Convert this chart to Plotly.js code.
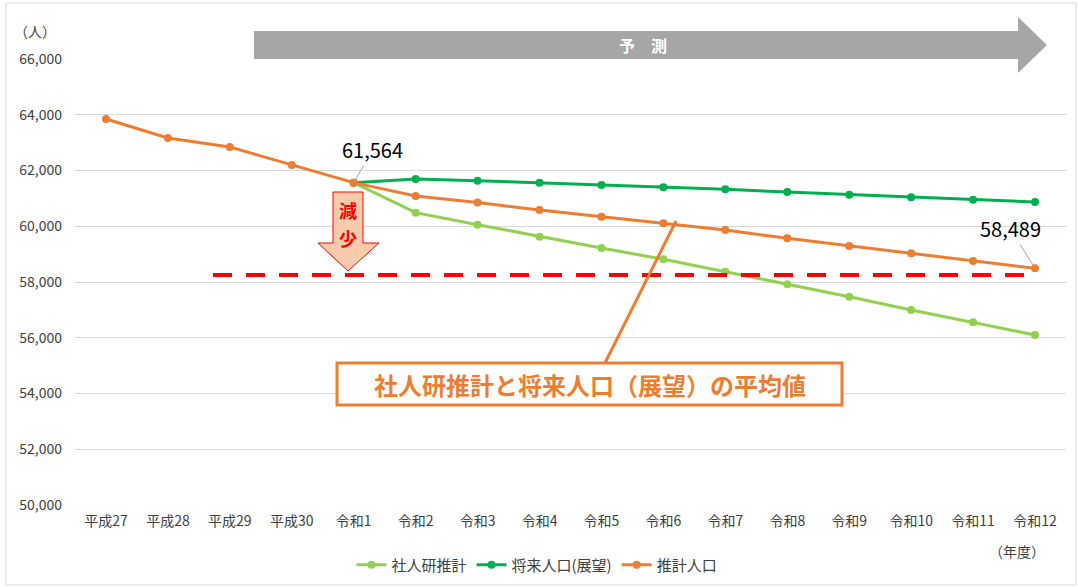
<!DOCTYPE html>
<html>
<head>
<meta charset="utf-8">
<script src="https://cdn.plot.ly/plotly-3.0.1.min.js"></script>
<style>html,body{margin:0;padding:0;background:#fff;}#chart{width:1078px;height:587px;}</style>
</head>
<body>
<div id="chart"></div>
<script>
// ---- data ----
const categories = ["平成27","平成28","平成29","平成30","令和1","令和2","令和3","令和4","令和5","令和6","令和7","令和8","令和9","令和10","令和11","令和12"];
const shajinkenCats = ["令和1","令和2","令和3","令和4","令和5","令和6","令和7","令和8","令和9","令和10","令和11","令和12"];
const shajinkenValues = [61564, 60487, 60057, 59627, 59220, 58813, 58370, 57918, 57474, 56996, 56554, 56099];
const tenbouValues = [61564, 61695, 61634, 61563, 61480, 61397, 61325, 61229, 61134, 61039, 60955, 60870];
const suikeiValues = [63848, 63166, 62843, 62197, 61564, 61085, 60852, 60583, 60343, 60104, 59866, 59568, 59292, 59030, 58753, 58489];
const yTickValues = [50000, 52000, 54000, 56000, 58000, 60000, 62000, 64000, 66000];
const yTickLabels = ["50,000","52,000","54,000","56,000","58,000","60,000","62,000","64,000","66,000"];
const seriesNames = ["社人研推計", "将来人口(展望)", "推計人口"];
const targetLevel = 58250;

// ---- layout helpers (pixel -> paper) ----
const W = 1078, H = 587;
const L = 75, R = 1066, T = 59, B = 505;
const px = x => (x - L) / (R - L);
const py = y => (B - y) / (B - T);
const P = (x, y) => px(x).toFixed(5) + "," + py(y).toFixed(5);

const font = "'Noto Sans CJK JP', 'Noto Sans', sans-serif";
const orange = "#ED7D31", lightGreen = "#92D050", darkGreen = "#00B050";

const traces = [
  {x: shajinkenCats, y: shajinkenValues, name: seriesNames[0], type: "scatter", mode: "lines+markers",
   line: {color: lightGreen, width: 3}, marker: {color: lightGreen, size: 8}, hoverinfo: "skip"},
  {x: shajinkenCats, y: tenbouValues, name: seriesNames[1], type: "scatter", mode: "lines+markers",
   line: {color: darkGreen, width: 3}, marker: {color: darkGreen, size: 8}, hoverinfo: "skip"},
  {x: categories, y: suikeiValues, name: seriesNames[2], type: "scatter", mode: "lines+markers",
   line: {color: orange, width: 3}, marker: {color: orange, size: 8}, hoverinfo: "skip"}
];

const grayArrow = "M" + P(254,31) + " L" + P(1018,31) + " L" + P(1018,17) + " L" + P(1047,45) +
  " L" + P(1018,73) + " L" + P(1018,59) + " L" + P(254,59) + " Z";
const redArrow = "M" + P(333,192) + " L" + P(363,192) + " L" + P(363,243) + " L" + P(379,243) +
  " L" + P(348,271) + " L" + P(318,243) + " L" + P(333,243) + " Z";

const shapes = [
  {type: "rect", xref: "paper", yref: "paper", x0: px(6), x1: px(1076), y0: py(3), y1: py(585),
   line: {color: "#D9D9D9", width: 1}, fillcolor: "rgba(0,0,0,0)", layer: "below"},
  {type: "line", xref: "paper", yref: "y", x0: px(213), x1: px(1035), y0: targetLevel, y1: targetLevel,
   line: {color: "#FF0000", width: 4, dash: "19px,14px"}, layer: "above"},
  {type: "path", xref: "paper", yref: "paper", path: grayArrow, fillcolor: "#A6A6A6", line: {width: 0}},
  {type: "path", xref: "paper", yref: "paper", path: redArrow, fillcolor: "#F8CBAD", line: {color: "#FF0000", width: 1}},
  {type: "line", xref: "paper", yref: "paper", x0: px(605), y0: py(363), x1: px(676), y1: py(221),
   line: {color: orange, width: 3}},
  {type: "rect", xref: "paper", yref: "paper", x0: px(337), x1: px(842), y0: py(363), y1: py(405),
   line: {color: orange, width: 3}, fillcolor: "#FFFFFF"}
];

function txt(x, y, text, size, color, bold) {
  return {xref: "paper", yref: "paper", x: px(x), y: py(y), xanchor: "center", yanchor: "middle",
          text: text, showarrow: false,
          font: {family: font, size: size, color: color, weight: bold ? "bold" : "normal"}};
}

const annotations = [
  txt(35, 31, "（人）", 14, "#404040", false),
  txt(1017, 551, "（年度）", 14, "#404040", false),
  txt(643, 45, "予　測", 16, "#FFFFFF", true),
  txt(348, 210, "減", 18, "#FF0000", true),
  txt(348, 238, "少", 18, "#FF0000", true),
  txt(590, 384, "社人研推計と将来人口（展望）の平均値", 24, orange, true),
  {xref: "x", yref: "y", x: categories[4], y: suikeiValues[4], text: "61,564", showarrow: true,
   arrowhead: 0, arrowwidth: 1, arrowcolor: "#A6A6A6", ax: 19, ay: -33, standoff: 2,
   font: {family: font, size: 20, color: "#000000"}},
  {xref: "x", yref: "y", x: categories[15], y: suikeiValues[15], text: "58,489", showarrow: true,
   arrowhead: 0, arrowwidth: 1, arrowcolor: "#A6A6A6", ax: -25, ay: -40, standoff: 2,
   font: {family: font, size: 20, color: "#000000"}}
];

const layout = {
  width: W, height: H,
  margin: {l: L, r: W - R, t: T, b: H - B, pad: 0, autoexpand: false},
  paper_bgcolor: "#FFFFFF", plot_bgcolor: "#FFFFFF",
  font: {family: font, size: 14, color: "#404040"},
  showlegend: true,
  legend: {orientation: "h", x: px(537), xanchor: "center", y: py(565), yanchor: "middle",
           font: {family: font, size: 15, color: "#404040"}, traceorder: "normal"},
  xaxis: {type: "category", categoryarray: categories, categoryorder: "array", range: [-0.5, 15.5],
          showgrid: false, zeroline: false, showline: false, ticks: "", tickfont: {family: font, size: 14, color: "#404040"},
          ticklabelstandoff: 6, fixedrange: true},
  yaxis: {range: [50000, 66000], tickvals: yTickValues, ticktext: yTickLabels, showgrid: true,
          gridcolor: "#D9D9D9", gridwidth: 1, zeroline: false, showline: false, ticks: "",
          tickfont: {family: font, size: 14, color: "#404040"}, ticklabelstandoff: 12, fixedrange: true},
  shapes: shapes,
  annotations: annotations
};

Plotly.newPlot("chart", traces, layout, {displayModeBar: false, staticPlot: true});
</script>
</body>
</html>
